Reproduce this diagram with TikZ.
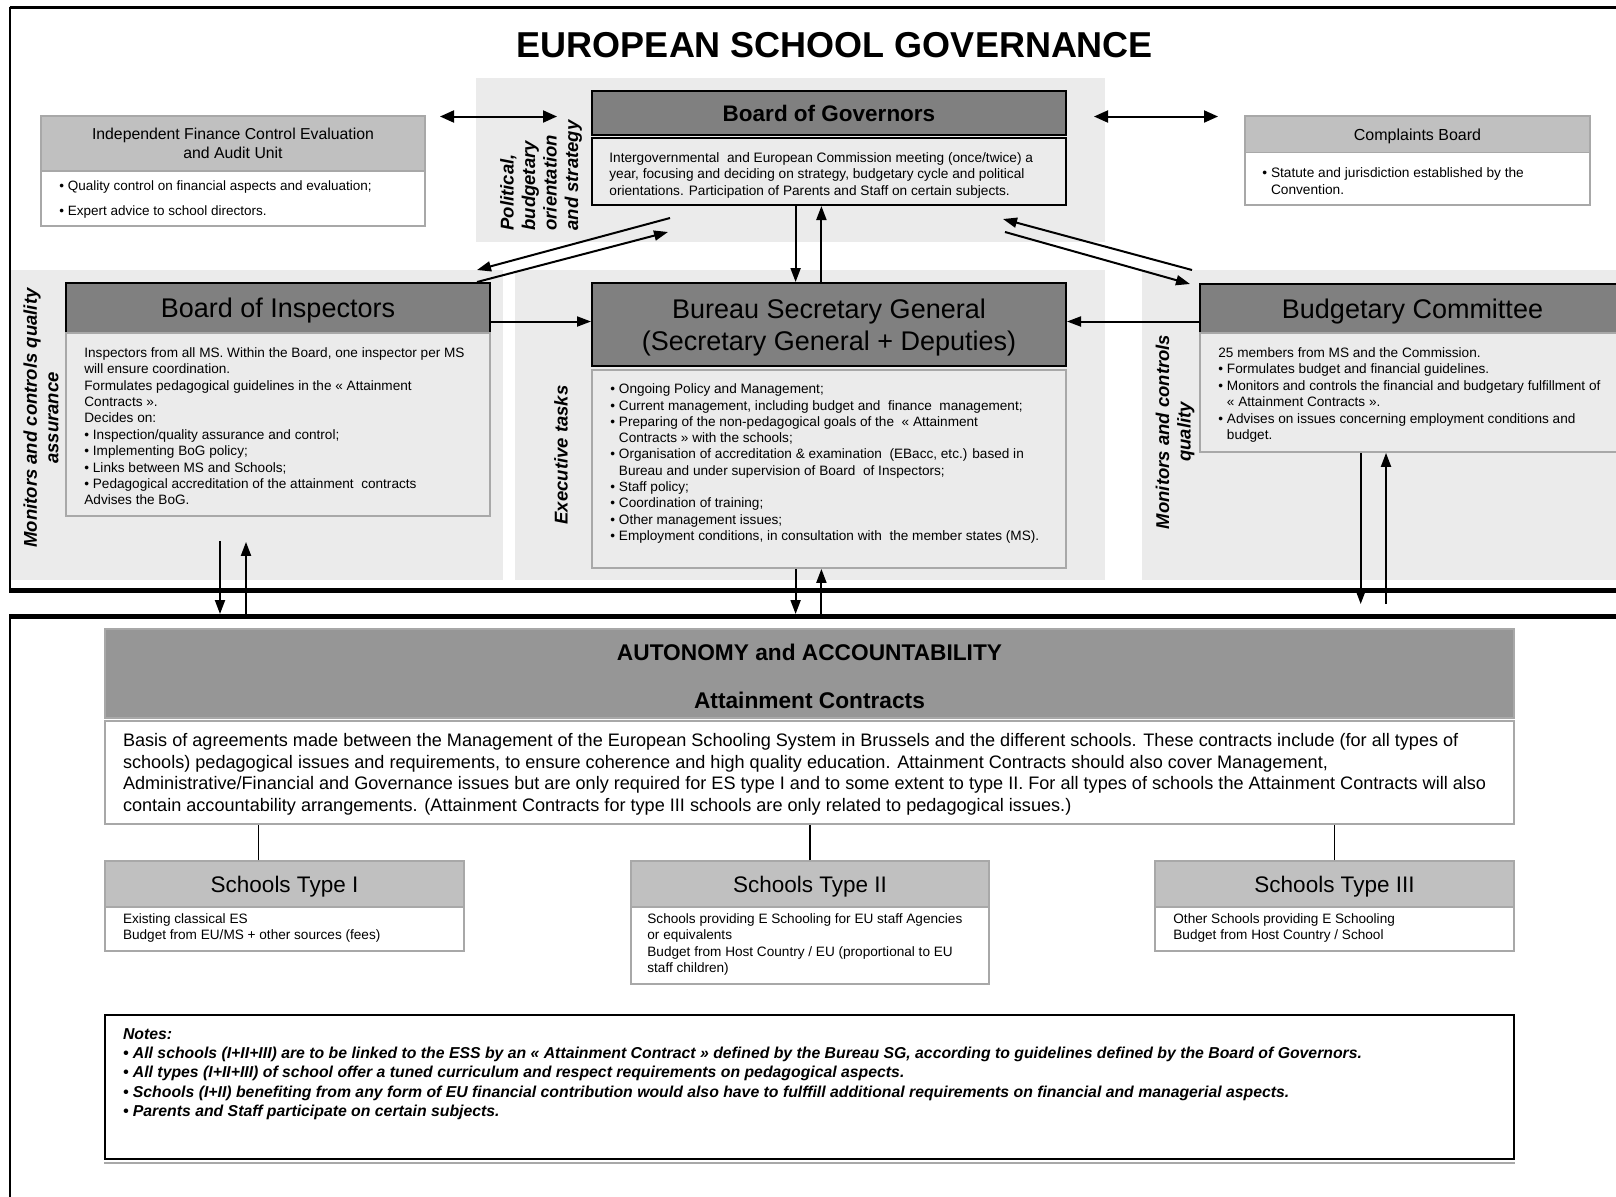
\documentclass[tikz,border=0pt]{standalone}
\usepackage{fontspec}
\setmainfont{Liberation Sans}
\usetikzlibrary{arrows.meta}
\definecolor{bandgray}{HTML}{EBEBEB}
\definecolor{hdark}{HTML}{808080}
\definecolor{autgray}{HTML}{969696}
\definecolor{hlight}{HTML}{C0C0C0}
\definecolor{bordergray}{HTML}{A8A8A8}
\newcommand\fsz[2]{\fontsize{#1}{#2}\selectfont}
\begin{document}
\begin{tikzpicture}[x=0.5pt,y=-0.5pt,
  darkbox/.style={draw=black, line width=1pt, fill=hdark, inner sep=0pt, text depth=0pt},
  lightbox/.style={draw=bordergray, line width=0.75pt, fill=hlight, inner sep=0pt, text depth=0pt},
  whitebox/.style={draw=bordergray, line width=0.75pt, fill=white, inner sep=0pt},
  graybox/.style={draw=bordergray, line width=0.9pt, fill=bandgray, inner sep=0pt},
  textblk/.style={anchor=north west, inner sep=0pt, align=left},
  vlabel/.style={rotate=90, inner sep=0pt, font=\bfseries\itshape\fsz{9.25}{10.75}},
  arr/.style={line width=1pt, -{Triangle[length=7pt,width=5pt]}},
  dblarr/.style={line width=1pt, {Triangle[length=7pt,width=6pt]}-{Triangle[length=7pt,width=6pt]}},
  conn/.style={line width=0.6pt}
]
\useasboundingbox (0,0) rectangle (1616,1196);
\begin{scope}
\clip (0,0) rectangle (1616,1196);
% background bands
\fill[bandgray] (476,78) rectangle (1105,242);
\fill[bandgray] (10,270) rectangle (503,580);
\fill[bandgray] (515,270) rectangle (1105,580);
\fill[bandgray] (1142,270) rectangle (1640,580);
% frames
\draw[line width=1.5pt] (9.5,7) -- (1640,7);
\draw[line width=1pt] (10,7) -- (10,590);
\draw[line width=2.5pt] (9,590) -- (1640,590);
\draw[line width=2.5pt] (9,616) -- (1640,616);
\draw[line width=1pt] (10,616) -- (10,1210);

% title
\node[font=\bfseries\fsz{18}{20}] (title) at (835,45) {EUROPEAN SCHOOL GOVERNANCE};

% Independent Finance
\node[lightbox, minimum width=192pt, minimum height=27.5pt, align=center, font=\fsz{7.9}{9.25}] (ifch) at (233,143.5) {Independent Finance Control Evaluation\\and Audit Unit};
\node[whitebox, minimum width=192pt, minimum height=27.5pt] (ifcb) at (233,198.5) {};
\node[textblk, font=\fsz{6.75}{12.25}] (ifct) at (59,180.5) {• Quality control on financial aspects and evaluation;\\• Expert advice to school directors.};

% Complaints Board
\node[lightbox, minimum width=172.5pt, minimum height=18.25pt, font=\fsz{8}{9}] (cbh) at (1417.5,134.25) {Complaints Board};
\node[whitebox, minimum width=172.5pt, minimum height=26.25pt] (cbb) at (1417.5,178.75) {};
\node[textblk, font=\fsz{6.85}{8.5}] (cbt) at (1262,167) {• Statute and jurisdiction established by the\\\phantom{• }Convention.};

% Board of Governors
\node[darkbox, minimum width=237pt, minimum height=22pt, font=\bfseries\fsz{11.25}{13}] (bogh) at (829,113) {Board of Governors};
\node[draw=black, line width=1pt, fill=bandgray, minimum width=237pt, minimum height=33.5pt, inner sep=0pt] (bogb) at (829,171.5) {};
\node[textblk, font=\fsz{6.83}{8.25}] (bogt) at (609,152) {Intergovernmental\ \ and European Commission meeting (once/twice) a\\year, focusing and deciding on strategy, budgetary cycle and political\\orientations. Participation of Parents and Staff on certain subjects.};
\node[vlabel, align=left] (pol) at (541,175.5) {Political,\\budgetary\\orientation\\and strategy};

% Board of Inspectors
\node[darkbox, minimum width=212pt, minimum height=25pt, font=\fsz{13.5}{16}] (boih) at (278,308) {Board of Inspectors};
\node[graybox, minimum width=212pt, minimum height=91.5pt] (boib) at (278,424.5) {};
\node[textblk, font=\fsz{6.8}{8.2}] (boit) at (84,347) {Inspectors from all MS. Within the Board, one inspector per MS\\will ensure coordination.\\Formulates pedagogical guidelines in the « Attainment\\Contracts ».\\Decides on:\\• Inspection/quality assurance and control;\\• Implementing BoG policy;\\• Links between MS and Schools;\\• Pedagogical accreditation of the attainment\ \ contracts\\Advises the BoG.};
\node[vlabel, align=center] (monl) at (41,418) {Monitors and controls quality\\assurance};

% Bureau
\node[darkbox, minimum width=237pt, minimum height=41.5pt, align=center, font=\fsz{13.5}{16}] (bsgh) at (829,324.5) {Bureau Secretary General\\(Secretary General + Deputies)};
\node[graybox, minimum width=237pt, minimum height=99pt] (bsgb) at (829,469) {};
\node[textblk, font=\fsz{6.8}{8.15}] (bsgt) at (610,383.5) {• Ongoing Policy and Management;\\• Current management, including budget and\ \ finance\ \ management;\\• Preparing of the non-pedagogical goals of the\ \ « Attainment\\\phantom{• }Contracts » with the schools;\\• Organisation of accreditation \& examination\ \ (EBacc, etc.) based in\\\phantom{• }Bureau and under supervision of Board\ \ of Inspectors;\\• Staff policy;\\• Coordination of training;\\• Other management issues;\\• Employment conditions, in consultation with\ \ the member states (MS).};
\node[vlabel] (exec) at (561,455) {Executive tasks};

% Budgetary Committee
\node[darkbox, minimum width=212.5pt, minimum height=24.5pt, font=\fsz{13.5}{16}] (budh) at (1412.5,308.5) {Budgetary Committee};
\node[graybox, minimum width=212.5pt, minimum height=59.5pt] (budb) at (1412.5,392.5) {};
\node[textblk, font=\fsz{6.8}{8.25}] (budt) at (1218,347) {25 members from MS and the Commission.\\• Formulates budget and financial guidelines.\\• Monitors and controls the financial and budgetary fulfillment of\\\phantom{• }« Attainment Contracts ».\\• Advises on issues concerning employment conditions and\\\phantom{• }budget.};
\node[vlabel, align=center] (monr) at (1175,432) {Monitors and controls\\quality};

% top double arrows
\coordinate (dl1) at (440,116.5);
\coordinate (dl2) at (557,116.5);
\draw[dblarr] (dl1) -- (dl2);
\coordinate (dr1) at (1094,116.5);
\coordinate (dr2) at (1218,116.5);
\draw[dblarr] (dr1) -- (dr2);

% slanted arrows BoG <-> BoI
\coordinate (gi1) at (670,218);
\coordinate (gi2) at (477,270);
\coordinate (gi3) at (477,282);
\coordinate (gi4) at (668,232);
\draw[arr] (gi1) -- (gi2);
\draw[arr] (gi3) -- (gi4);
% slanted arrows BoG <-> Budget
\coordinate (gb1) at (1192,270);
\coordinate (gb2) at (1003,219);
\coordinate (gb3) at (1005,232);
\coordinate (gb4) at (1190,284);
\draw[arr] (gb1) -- (gb2);
\draw[arr] (gb3) -- (gb4);

% BoG <-> Bureau
\draw[arr] ([xshift=-16.7pt]bogb.south) -- ([xshift=-16.7pt]bsgh.north);
\draw[arr] ([xshift=-3.8pt]bsgh.north) -- ([xshift=-3.8pt]bogb.south);

% horizontal arrows to Bureau
\coordinate (h1) at ([yshift=-6.75pt]boih.east);
\draw[arr] (h1) -- (h1 -| bsgh.west);
\coordinate (h2) at ([yshift=-6.5pt]budh.west);
\draw[arr] (h2) -- (h2 -| bsgh.east);

% arrows down to lower section
\coordinate (lowtop) at (810,614);
\coordinate (budend) at (1373,604);
\coordinate (bi1) at ([xshift=-29pt,yshift=-12pt]boib.south);
\coordinate (bi2) at ([xshift=-16pt,yshift=-12.5pt]boib.south);
\draw[arr] (bi1) -- (bi1 |- lowtop);
\draw[arr] (bi2 |- lowtop) -- (bi2);
\coordinate (bs1) at ([xshift=-16.7pt]bsgb.south);
\coordinate (bs2) at ([xshift=-3.8pt]bsgb.south);
\draw[arr] (bs1) -- (bs1 |- lowtop);
\draw[arr] (bs2 |- lowtop) -- (bs2);
\coordinate (bu1) at ([xshift=-25.9pt]budb.south);
\coordinate (bu2) at ([xshift=-13.25pt]budb.south);
\draw[arr] (bu1) -- (bu1 |- budend);
\draw[arr] (bu2 |- budend) -- (bu2);

% Autonomy
\node[draw=bordergray, line width=0.75pt, fill=autgray, minimum width=704.5pt, minimum height=44.5pt, inner sep=0pt] (auth) at (809.5,673.5) {};
\node[font=\bfseries\fsz{11.35}{13}] (autt1) at (809.5,652) {AUTONOMY and ACCOUNTABILITY};
\node[font=\bfseries\fsz{11.35}{13}] (autt2) at (809.5,700) {Attainment Contracts};
\node[whitebox, minimum width=704.5pt, minimum height=51.5pt] (autb) at (809.5,772.5) {};
\node[textblk, font=\fsz{9.05}{10.8}] (autt) at (122.6,733) {Basis of agreements made between the Management of the European Schooling System in Brussels and the different schools. These contracts include (for all types of\\schools) pedagogical issues and requirements, to ensure coherence and high quality education. Attainment Contracts should also cover Management,\\Administrative/Financial and Governance issues but are only required for ES type I and to some extent to type II. For all types of schools the Attainment Contracts will also\\contain accountability arrangements. (Attainment Contracts for type III schools are only related to pedagogical issues.)};

% Schools
\node[lightbox, minimum width=179.5pt, minimum height=23pt, font=\fsz{11.25}{13}] (s1h) at (284.5,884) {Schools Type I};
\node[whitebox, minimum width=179.5pt, minimum height=22pt] (s1b) at (284.5,929) {};
\node[textblk, font=\fsz{6.8}{8.25}] (s1t) at (122.6,913) {Existing classical ES\\Budget from EU/MS + other sources (fees)};
\node[lightbox, minimum width=179pt, minimum height=23pt, font=\fsz{11.25}{13}] (s2h) at (810,884) {Schools Type II};
\node[whitebox, minimum width=179pt, minimum height=38.5pt] (s2b) at (810,945.5) {};
\node[textblk, font=\fsz{6.8}{8.25}] (s2t) at (647,913) {Schools providing E Schooling for EU staff Agencies\\or equivalents\\Budget from Host Country / EU (proportional to EU\\staff children)};
\node[lightbox, minimum width=179.5pt, minimum height=23pt, font=\fsz{11.25}{13}] (s3h) at (1334.5,884) {Schools Type III};
\node[whitebox, minimum width=179.5pt, minimum height=22pt] (s3b) at (1334.5,929) {};
\node[textblk, font=\fsz{6.8}{8.25}] (s3t) at (1173,913) {Other Schools providing E Schooling\\Budget from Host Country / School};

\coordinate (c1) at ([xshift=-12.9pt]s1h.north);
\draw[conn] (c1) -- (c1 |- autb.south);
\draw[conn] (s2h.north) -- (s2h.north |- autb.south);
\draw[conn] (s3h.north) -- (s3h.north |- autb.south);

% Notes
\node[draw=black, line width=1pt, fill=white, minimum width=704.5pt, minimum height=72pt, inner sep=0pt] (notes) at (809.5,1087) {};
\draw[bordergray, line width=0.75pt] ([yshift=-1.6pt]notes.south west) -- ([yshift=-1.6pt]notes.south east);
\node[textblk, font=\bfseries\itshape\fsz{7.9}{9.55}] (notest) at (122.6,1028.5) {Notes:\\• All schools (I+II+III) are to be linked to the ESS by an « Attainment Contract » defined by the Bureau SG, according to guidelines defined by the Board of Governors.\\• All types (I+II+III) of school offer a tuned curriculum and respect requirements on pedagogical aspects.\\• Schools (I+II) benefiting from any form of EU financial contribution would also have to fulffill additional requirements on financial and managerial aspects.\\• Parents and Staff participate on certain subjects.};
\end{scope}
\end{tikzpicture}
\end{document}
